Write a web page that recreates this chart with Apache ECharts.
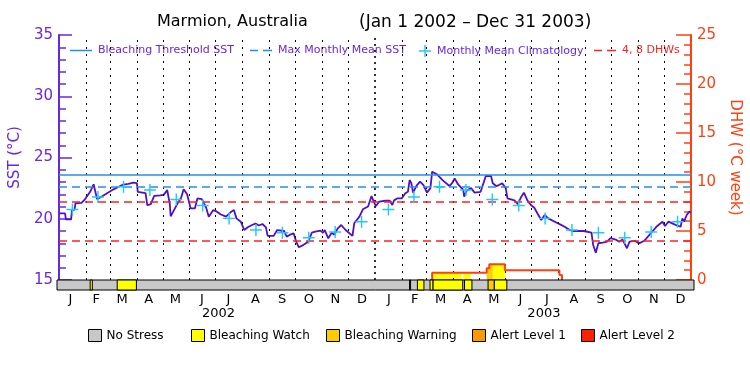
<!DOCTYPE html>
<html><head><meta charset="utf-8">
<script src="https://cdn.jsdelivr.net/npm/echarts@6/dist/echarts.min.js"></script>
<style>html,body{margin:0;padding:0;background:#fff}#c{width:750px;height:375px}</style>
</head><body><div id="c"></div>
<script>
// ---------- data ----------
const sstDay = [0,7,8,14,15,18,19,26,30,36,40,44,49,56,63,73,80,86,90,91,100,102,106,110,117,121,125,128,129,137,141,144,148,152,157,160,165,170,173,178,182,187,193,199,202,205,210,214,218,223,227,231,235,239,241,248,252,260,263,267,271,274,277,282,288,292,296,302,305,307,311,315,318,322,326,331,339,341,347,351,357,361,363,366,370,377,382,385,387,391,396,400,403,405,407,409,413,417,421,425,429,431,437,443,451,454,457,461,467,468,471,476,480,487,493,499,501,505,508,512,516,518,526,530,534,537,541,545,549,553,557,561,565,576,580,584,590,594,606,608,615,617,620,623,628,633,637,643,647,651,656,659,665,670,676,685,691,697,700,704,709,715,718,720,722,725,728,730];
const sstVal = [20.44,20.44,19.95,19.95,20.7,20.75,21.26,21.3,21.59,22.2,22.81,21.6,21.8,22.1,22.4,22.76,22.85,22.95,22.9,22.2,22.1,21.1,21.2,21.86,21.9,21.95,22.35,21.2,20.2,21.26,21.7,22.4,22.0,20.85,20.85,21.67,21.6,20.9,20.17,20.7,20.6,20.35,20.17,20.58,20.71,20.03,19.76,19.08,19.3,19.49,19.6,19.45,19.57,19.3,18.6,18.6,19.08,19.0,18.54,18.7,18.81,18.13,17.67,17.85,18.13,18.86,18.95,19.03,18.85,19.08,18.4,18.85,18.7,19.22,19.49,19.08,18.6,19.63,20.17,20.77,21.0,21.86,21.5,21.04,21.4,21.47,21.47,21.12,21.5,21.67,21.67,22.08,22.2,23.16,22.9,22.13,22.7,23.03,22.75,22.13,22.5,23.84,23.6,23.15,22.67,22.9,23.3,22.8,22.35,21.8,22.3,22.5,22.13,22.2,23.49,23.49,22.9,22.67,22.75,22.89,22.5,21.67,21.5,21.2,21.8,22.13,21.5,21.12,20.9,20.39,19.9,20.31,20.03,19.63,19.5,19.35,19.08,19.0,19.0,18.86,18.86,17.86,17.23,18.0,18.05,18.13,18.41,18.3,18.13,18.3,17.59,18.13,18.2,17.99,18.2,18.94,19.41,19.76,19.41,19.76,19.6,19.41,19.35,20.03,19.76,20.31,20.58,20.5];
const climMonthly = [20.75,21.78,22.61,22.35,21.57,21.08,20.03,19.08,18.86,18.45,18.92,19.76];
const bleachingThreshold = 23.6;
const maxMonthlyMean = 22.6;
const dhwLevels = [4, 8];
const dhwDay = [431,431,494,497,515,578,581];
const dhwVal = [0,0.75,1.2,1.6,1.0,0.5,0];
const noStressSeg = [[0,730]];
const watchSeg = [[38,40.5],[69,91],[404,405.2],[413,420.5],[427.5,431],[431,465],[467,475.5],[501,515.5]];
const warningSeg = [[494,501]];
const alert1Seg = [];
const alert2Seg = [];
const monthLabels = ['J','F','M','A','M','J','J','A','S','O','N','D'];
const yearLabels = ['2002','2003'];
const yearLabelDates = ['2002-07-05','2003-07-13'];

// ---------- helpers ----------
const T0 = Date.UTC(2002,0,1);
const dayOf = s => (Date.UTC(+s.slice(0,4), +s.slice(5,7)-1, +s.slice(8,10)) - T0) / 864e5;
const monthStart = [];
for (let i = 0; i <= 24; i++) monthStart.push((Date.UTC(2002, i, 1) - T0) / 864e5);
const monthMid = [];
for (let i = 0; i < 24; i++) monthMid.push((monthStart[i] + monthStart[i+1]) / 2);
const yearLabelDays = yearLabelDates.map(dayOf);
const xMax = monthStart[24];

const PURPLE = '#6428e6', LINE = '#5010c8', ORANGE = '#ff4010', RED = '#ff2020',
      BLUE = '#2090f0', CYAN = '#22c8f8', FONT = 'DejaVu Sans';
const levelColors = ['#c8c8c8', '#ffff00', '#ffcc00', '#ff9900', '#ff2000'];
const levelNames = ['No Stress', 'Bleaching Watch', 'Bleaching Warning', 'Alert Level 1', 'Alert Level 2'];
const levelSegs = [noStressSeg, watchSeg, warningSeg, alert1Seg, alert2Seg];

function dhwAt(d) { let v = 0; for (let i = 0; i < dhwDay.length; i++) if (dhwDay[i] <= d) v = dhwVal[i]; return v; }

function segRender(color) {
  return function (params, api) {
    const a = api.coord([api.value(0), 1]);
    const b = api.coord([api.value(1), 0]);
    return { type: 'rect', shape: { x: a[0], y: a[1], width: b[0] - a[0], height: b[1] - a[1] },
             style: { fill: color, stroke: '#000', lineWidth: 1 } };
  };
}

const fillData = [];
[watchSeg, warningSeg, alert1Seg, alert2Seg].forEach((segs, k) => segs.forEach(s => fillData.push([s[0], s[1], k + 1])));

const chart = echarts.init(document.getElementById('c'));
const series = [];

series.push({ name: 'monthLines', type: 'line', xAxisIndex: 0, yAxisIndex: 0, data: [], z: 1, silent: true,
  markLine: { symbol: ['none','none'], silent: true, label: { show: false }, animation: false,
    data: monthStart.slice(1, 24).map((d, i) => ({ xAxis: d,
      lineStyle: (i + 1) === 12 ? { color: '#000', width: 1.6, type: [2, 4] } : { color: '#000', width: 1, type: [2, 5] } })) } });

series.push({ name: 'dhwFill', type: 'custom', xAxisIndex: 0, yAxisIndex: 1, data: fillData, z: 2, silent: true,
  encode: { x: [0, 1] },
  renderItem(params, api) {
    const s = api.value(0), e = api.value(1), lvl = api.value(2);
    const cuts = [s, ...dhwDay.filter(d => d > s && d < e), e];
    const children = [];
    for (let k = 0; k < cuts.length - 1; k++) {
      const v = dhwAt(cuts[k]);
      if (v <= 0) continue;
      const p0 = api.coord([cuts[k], v]), p1 = api.coord([cuts[k+1], 0]);
      children.push({ type: 'rect', shape: { x: p0[0], y: p0[1], width: p1[0] - p0[0], height: p1[1] - p0[1] },
        style: { fill: levelColors[lvl] } });
    }
    return { type: 'group', children };
  } });

series.push({ name: 'Bleaching Threshold SST', type: 'line', xAxisIndex: 0, yAxisIndex: 0, data: [], symbol: 'none',
  lineStyle: { color: BLUE, width: 1.5, type: 'solid' }, itemStyle: { color: BLUE }, z: 3,
  markLine: { symbol: ['none','none'], silent: true, label: { show: false }, animation: false,
    lineStyle: { color: BLUE, width: 1.5, type: 'solid' }, data: [{ yAxis: bleachingThreshold }] } });

series.push({ name: 'Max Monthly Mean SST', type: 'line', xAxisIndex: 0, yAxisIndex: 0, data: [], symbol: 'none',
  lineStyle: { color: BLUE, width: 1.5, type: [8, 5] }, itemStyle: { color: BLUE }, z: 3,
  markLine: { symbol: ['none','none'], silent: true, label: { show: false }, animation: false,
    lineStyle: { color: BLUE, width: 1.5, type: [8, 5] }, data: [{ yAxis: maxMonthlyMean }] } });

series.push({ name: '4, 8 DHWs', type: 'line', xAxisIndex: 0, yAxisIndex: 1, data: [], symbol: 'none',
  lineStyle: { color: RED, width: 1.5, type: [8, 5] }, itemStyle: { color: RED }, z: 3,
  markLine: { symbol: ['none','none'], silent: true, label: { show: false }, animation: false,
    lineStyle: { color: RED, width: 1.5, type: [8, 5] }, data: dhwLevels.map(v => ({ yAxis: v })) } });

series.push({ name: 'SST', type: 'line', xAxisIndex: 0, yAxisIndex: 0, symbol: 'none', z: 4,
  data: sstDay.map((d, i) => [d, sstVal[i]]), lineStyle: { color: LINE, width: 1.8 } });

const climData = [];
for (let i = 0; i < 24; i++) climData.push([monthMid[i], climMonthly[i % 12]]);
series.push({ name: 'Monthly Mean Climatology', type: 'scatter', xAxisIndex: 0, yAxisIndex: 0, z: 5,
  symbol: 'path://M4.4,0h1.2v10h-1.2zM0,4.4h10v1.2h-10z', symbolSize: 12, data: climData,
  itemStyle: { color: CYAN, opacity: 1 } });

series.push({ name: 'DHW', type: 'line', xAxisIndex: 0, yAxisIndex: 1, symbol: 'none', step: 'end', z: 5,
  data: dhwDay.map((d, i) => [d, dhwVal[i]]), lineStyle: { color: ORANGE, width: 2 } });

levelNames.forEach((n, k) => {
  series.push({ name: n, type: 'custom', xAxisIndex: 1, yAxisIndex: 2, z: 6 + k, encode: { x: [0, 1] },
    itemStyle: { color: levelColors[k], borderColor: '#000', borderWidth: 1 },
    data: levelSegs[k], renderItem: segRender(levelColors[k]) });
});

const SOLID_ICON = 'path://M0,0h22v1.5h-22z';
const DASH_ICON = 'path://M0,0h8v1.5h-8zM13,0h9v1.5h-9z';
const PLUS_ICON = 'path://M4.4,0h1.2v10h-1.2zM0,4.4h10v1.2h-10z';
const topLegend = (name, left, color, icon, iconColor, w, h) => ({
  data: [{ name, icon, itemStyle: { color: iconColor, borderWidth: 0 } }], left, top: 45, padding: 0,
  itemWidth: w, itemHeight: h, itemGap: 0, selectedMode: false, symbolKeepAspect: true,
  textStyle: { color, fontSize: 11, fontFamily: FONT, padding: [0, 0, 0, 1] } });
const stressLegendLeft = [88, 191, 326, 472, 581];
const legends = [
  topLegend('Bleaching Threshold SST', 70, PURPLE, SOLID_ICON, BLUE, 22, 10),
  topLegend('Max Monthly Mean SST', 250, PURPLE, DASH_ICON, BLUE, 22, 10),
  topLegend('Monthly Mean Climatology', 419, PURPLE, PLUS_ICON, CYAN, 12, 12),
  topLegend('4, 8 DHWs', 594, RED, DASH_ICON, RED, 22, 10)
];
levelNames.forEach((n, k) => legends.push({
  data: [{ name: n, icon: 'rect', itemStyle: { color: levelColors[k], borderColor: '#000', borderWidth: 1 } }],
  left: stressLegendLeft[k], top: 329, padding: 0, itemWidth: 13, itemHeight: 12, selectedMode: false,
  textStyle: { color: '#000', fontSize: 12, fontFamily: FONT } }));

chart.setOption({
  animation: false,
  backgroundColor: '#fff',
  textStyle: { fontFamily: FONT },
  title: [
    { text: 'Marmion, Australia', left: 152, top: 9, textStyle: { fontSize: 16, fontWeight: 'normal', color: '#000', fontFamily: FONT } },
    { text: '(Jan 1 2002 – Dec 31 2003)', left: 354, top: 9, textStyle: { fontSize: 17, fontWeight: 'normal', color: '#000', fontFamily: FONT } }
  ],
  legend: legends,
  graphic: [{ type: 'rect', z: 3, silent: true, shape: { x: 72, y: 38, width: 605, height: 25 }, style: { fill: '#fff' } }],
  grid: [
    { left: 57, right: 56, top: 35, height: 245 },
    { left: 57, right: 56, top: 280, height: 10 }
  ],
  xAxis: [
    { gridIndex: 0, type: 'value', min: 0, max: xMax, position: 'top',
      axisLine: { show: true, lineStyle: { color: '#000', width: 1 } }, axisTick: { show: false }, axisLabel: { show: false }, splitLine: { show: false } },
    { gridIndex: 1, type: 'value', min: 0, max: xMax, position: 'bottom',
      axisLine: { show: false }, axisTick: { show: false }, splitLine: { show: false },
      axisLabel: { customValues: monthMid, margin: 3, color: '#000', fontSize: 13, fontFamily: FONT,
        formatter: v => monthLabels[monthMid.indexOf(v) % 12] } },
    { gridIndex: 1, type: 'value', min: 0, max: xMax, position: 'bottom', offset: 15,
      axisLine: { show: false }, axisTick: { show: false }, splitLine: { show: false },
      axisLabel: { customValues: yearLabelDays, margin: 2, color: '#000', fontSize: 13, fontFamily: FONT,
        formatter: v => yearLabels[yearLabelDays.indexOf(v)] } }
  ],
  yAxis: [
    { gridIndex: 0, type: 'value', min: 15, max: 35, interval: 5, position: 'left',
      name: 'SST (°C)', nameLocation: 'middle', nameGap: 32, nameTextStyle: { color: PURPLE, fontSize: 15, fontFamily: FONT },
      axisLine: { show: true, lineStyle: { color: PURPLE, width: 2 } },
      axisTick: { show: true, inside: true, length: 13, lineStyle: { color: PURPLE, width: 1.5 } },
      minorTick: { show: true, splitNumber: 5, length: 7, lineStyle: { color: PURPLE, width: 1.5 } },
      axisLabel: { color: PURPLE, fontSize: 15, fontFamily: FONT, margin: 6 }, splitLine: { show: false } },
    { gridIndex: 0, type: 'value', min: 0, max: 25, interval: 5, position: 'right',
      name: 'DHW (°C week)', nameLocation: 'middle', nameRotate: -90, nameGap: 30, nameTextStyle: { color: ORANGE, fontSize: 15, fontFamily: FONT },
      axisLine: { show: true, lineStyle: { color: ORANGE, width: 2 } },
      axisTick: { show: true, inside: true, length: 15, lineStyle: { color: ORANGE, width: 1.5 } },
      minorTick: { show: true, splitNumber: 5, length: 7, lineStyle: { color: ORANGE, width: 1.5 } },
      axisLabel: { color: ORANGE, fontSize: 15, fontFamily: FONT, margin: 6 }, splitLine: { show: false } },
    { gridIndex: 1, type: 'value', min: 0, max: 1, show: false }
  ],
  series
});
</script></body></html>
